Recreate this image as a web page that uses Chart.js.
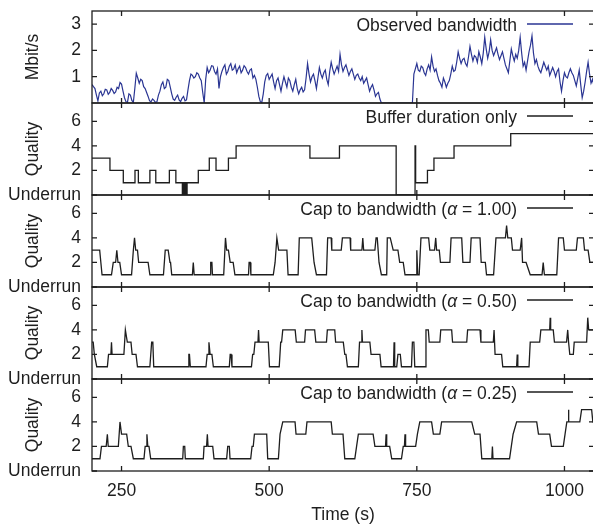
<!DOCTYPE html>
<html>
<head>
<meta charset="utf-8">
<script src="https://cdn.jsdelivr.net/npm/chart.js@4"></script>
<style>
  html, body { margin: 0; padding: 0; background: #fff; overflow: hidden; }
  #wrap { position: relative; width: 593px; height: 524px; overflow: hidden; }
  #wrap canvas { position: absolute; left: 0; }
</style>
</head>
<body>
<div id="wrap"></div>
<script>
// time axis
const xTicks = [250, 500, 750, 1000];
const bwTicks = [1, 2, 3];
const qualityTicks = [0, 2, 4, 6];

// observed bandwidth (Mbit/s), one value every 2.5 s from 200 s (one row = 25 s)
const bwStart = 200;
const bwStep = 2.5;
const bandwidth = [
  0.70, 0.62, 0.55, 0.30, 0.08, 0.38, 0.45, 0.28, 0.35, 0.52,
  0.50, 0.33, 0.40, 0.55, 0.48, 0.36, 0.42, 0.60, 0.55, 0.78,
  0.72, 0.45, 0.20, 0.05, 0.02, 0.35, 0.30, 0.10, 0.02, 0.55,
  1.13, 0.95, 0.75, 0.90, 0.85, 0.62, 0.55, 0.40, 0.25, 0.08,
  0.05, 0.15, 0.10, 0.02, 0.05, 0.30, 0.45, 0.70, 0.80, 0.55,
  0.60, 0.90, 0.85, 0.60, 0.35, 0.15, 0.10, 0.22, 0.30, 0.12,
  0.05, 0.18, 0.25, 0.08, 0.12, 0.50, 0.85, 1.10, 1.05, 0.95,
  1.00, 1.15, 1.10, 0.95, 0.85, 0.40, 0.00, 0.90, 1.35, 1.15,
  1.25, 1.42, 1.40, 1.20, 1.10, 1.30, 0.55, 1.00, 1.20, 1.35,
  1.45, 1.10, 1.20, 1.40, 1.50, 1.25, 1.30, 1.45, 1.15, 1.30,
  1.40, 1.15, 1.25, 1.42, 1.35, 1.20, 1.10, 1.25, 1.30, 0.95,
  1.05, 0.90, 0.60, 0.25, 0.05, 0.02, 0.35, 0.80, 1.05, 1.12,
  0.90, 1.00, 1.10, 0.80, 0.55, 0.85, 0.95, 0.70, 0.45, 0.75,
  1.00, 0.80, 0.60, 0.95, 0.85, 0.60, 0.45, 0.70, 0.90, 0.55,
  0.35, 0.50, 0.60, 0.42, 0.50, 0.95, 1.50, 1.10, 0.80, 1.00,
  1.10, 0.85, 0.55, 0.95, 1.35, 1.10, 0.95, 1.15, 1.25, 0.90,
  0.70, 1.20, 1.55, 1.30, 1.10, 1.25, 1.40, 1.20, 1.85, 1.45,
  1.20, 1.35, 1.45, 1.25, 1.05, 1.20, 1.30, 1.10, 0.90, 1.05,
  1.10, 0.95, 0.85, 1.00, 0.75, 0.85, 0.95, 0.70, 0.45, 0.60,
  0.70, 0.50, 0.25, 0.35, 0.40, 0.15, 0.00, 0.00, 0.00, 0.00,
  0.00, 0.00, 0.00, 0.00, 0.00, 0.00, 0.00, 0.00, 0.00, 0.00,
  0.00, 0.00, 0.00, 0.00, 0.00, 0.00, 0.00, 0.00, 1.10, 1.30,
  1.50, 1.25, 1.20, 1.40, 1.35, 1.15, 1.05, 1.30, 1.45, 1.25,
  1.75, 1.40, 1.20, 1.30, 1.05, 0.85, 0.75, 0.60, 0.95, 0.80,
  0.60, 0.75, 0.85, 1.10, 1.40, 1.20, 1.25, 1.55, 1.95, 1.70,
  1.50, 1.65, 1.70, 1.50, 1.40, 1.75, 2.15, 1.85, 1.60, 1.80,
  1.75, 1.55, 1.95, 1.75, 1.50, 1.90, 2.50, 2.05, 1.70, 1.95,
  2.40, 2.00, 1.80, 1.95, 2.10, 1.85, 1.65, 1.80, 1.95, 1.70,
  1.45, 1.30, 1.15, 1.60, 2.05, 1.80, 1.60, 1.85, 1.70, 2.00,
  2.50, 1.90, 1.40, 1.55, 1.25, 1.60, 1.95, 2.20, 2.55, 1.90,
  1.50, 1.65, 1.40, 1.25, 1.15, 1.35, 1.55, 1.40, 1.25, 1.40,
  1.05, 1.20, 1.35, 1.20, 1.00, 1.20, 1.30, 0.80, 0.45, 0.85,
  1.15, 1.00, 0.95, 1.15, 1.30, 1.15, 1.05, 0.85, 0.65, 0.95,
  1.25, 0.70, 0.20, 0.45, 0.80, 1.20, 1.55, 1.10, 0.75, 0.90,
  0.65
];

// quality level changes: [time (s), level], level 0 = underrun
const bufferOnly = [
  [200, 3], [230.4, 2], [253, 1], [272.8, 2], [278.5, 1], [298, 2], [308, 1],
  [331, 2], [342, 1], [353, 0], [354, 1], [355, 0], [356, 1], [357.5, 0],
  [358.5, 1], [360, 0], [361, 1], [380, 2], [398.6, 3], [410, 2], [431, 3],
  [444, 4], [569, 3], [619, 4], [715, 0], [747, 4], [748, 1], [768, 2],
  [779, 3], [813, 4], [909, 5], [1050, 5]
];

// quality samples: [time (s), level]
const cap100 = [
  [200,3],[213,3],[217,1],[233,1],[236,2],[240,2],[242,3],[244,2],[247,2],[250,1],
  [267,1],[270,3],[272,4],[274,3],[277,3],[279,2],[295,2],[298,1],[321,1],[324,3],
  [329,3],[332,2],[333,2],[335,1],[370,1],[371.5,2],[373,1],[400,1],[401,2],[403,2],
  [404,1],[423,1],[426,4],[428,3],[431,3],[434,2],[439,2],[442,1],[465,1],[466,2],
  [468,2],[469,1],[507,1],[510,2],[513,4],[516,3],[530,3],[532,1],[549,1],[551,4],
  [572,4],[576,2],[580,1],[597,1],[599,4],[605,4],[606,3],[622,3],[624,4],[637,4],
  [638,3],[657,3],[658.5,4],[660,3],[679,3],[681,4],[683,4],[686,2],[690,1],[699,1],
  [700,4],[705,4],[710,3],[718,3],[721,2],[727,2],[730,1],[749,1],[750,3],[751.5,1],
  [754,1],[757,4],[770,4],[772,3],[780,3],[782,4],[783.5,3],[788,3],[790,2],[806,2],
  [808,4],[826,4],[828,2],[840,2],[842,4],[857,4],[859,2],[866,2],[868,1],[880,1],
  [884,4],[900,4],[902,5],[904,4],[910,4],[912,3],[925,3],[927.5,4],[929,2],[935,2],
  [942,1],[962,1],[964,2],[966,1],[987,1],[990,4],[998,4],[1000,3],[1020,3],[1022,4],
  [1032,4],[1034,3],[1040,3],[1043,2],[1050,2]
];

const cap050 = [
  [200,3],[202,3],[204,2],[208,1],[226,1],[228,2],[232,2],[233,3],[234,2],[254,2],
  [256.5,4],[259.8,3],[266,3],[268,2],[274.5,2],[277,1],[298,1],[301,3],[303,3],[304.5,1],
  [363,1],[364,2],[365,2],[366.5,1],[393,1],[395,2],[397,2],[398,3],[400,2],[403,2],
  [405.5,1],[432.5,1],[434,2],[435.5,2],[437,1],[470,1],[472,2],[474,2],[476,3],[481,3],
  [482,4],[483,3],[498.5,3],[500.5,1],[517,1],[519.5,3],[521,3],[523,4],[544,4],[546,3],
  [560,3],[561.5,4],[577,4],[579,3],[597,3],[598.5,4],[611,4],[612.5,3],[625.5,3],[628,2],
  [630,2],[632.5,1],[651,1],[653,3],[656,3],[657,4],[658,3],[670.5,3],[672.5,2],[687.5,2],
  [689.5,1],[710.5,1],[711.5,3],[712.5,1],[716,1],[718,2],[722,2],[724,1],[741,1],[742.5,3],
  [745,3],[746.5,1],[764,1],[765.5,4],[769.5,4],[771,3],[789,3],[790.5,4],[809,4],[810.5,3],
  [834.5,3],[836,4],[857,4],[858.5,3],[879.5,3],[880.8,4],[882.5,2],[893.5,2],[895.5,1],[919,1],
  [920,2],[921,1],[940,1],[942,3],[958,3],[960,4],[975,4],[975.8,5],[976.6,4],[981,4],
  [983,3],[1003.5,3],[1005.5,4],[1007,3],[1009,2],[1015,2],[1016.5,3],[1037.5,3],[1039.4,5],[1041,4],
  [1050,4]
];

const cap025 = [
  [200,1],[213.5,1],[216,2],[224,2],[226,3],[227.5,2],[244.6,2],[247.4,4],[250,3],[258.7,3],
  [261.5,2],[266,2],[270,1],[288,1],[290,2],[292,2],[293,3],[294.5,2],[296.5,2],[299.4,1],
  [353.6,1],[354.7,2],[357,2],[358,1],[388.5,1],[389.7,2],[394,2],[395.3,3],[396.5,2],[404.4,2],
  [406.6,1],[428,1],[429.8,2],[432.5,2],[433.7,1],[468.7,1],[471,2],[473,2],[475,3],[495.8,3],
  [497.5,1],[515.6,1],[518.4,3],[520,3],[523,4],[543.8,4],[545.5,3],[562,3],[564,4],[605,4],
  [607,3],[625,3],[628,1],[645,1],[648,2],[651,3],[676,3],[679,2],[697,2],[698,3],
  [699,2],[704,2],[707.5,1],[724,1],[727,2],[729,2],[730,3],[731,2],[748,2],[751,3],
  [755,4],[775,4],[778,3],[789,3],[792,4],[843,4],[848,3],[857,3],[860,1],[877,1],
  [878,2],[879,1],[907,1],[910,2],[913,3],[919,4],[953,4],[956,3],[975,3],[978,2],
  [998,2],[1001,3],[1004,4],[1006,4],[1006.7,5],[1007.5,4],[1026,4],[1029,5],[1046,5],[1048,4],
  [1050,4]
];

const legendLabels = [
  'Observed bandwidth',
  'Buffer duration only',
  'Cap to bandwidth (α = 1.00)',
  'Cap to bandwidth (α = 0.50)',
  'Cap to bandwidth (α = 0.25)'
];

// layout
const panelTops = [11, 103, 195, 287, 379, 471];
const padTop = 14;
const fontFamily = "'Liberation Sans', Arial, Helvetica, sans-serif";
const ink = '#1e1e1e';
const blue = '#2a3593';

Chart.defaults.font.family = fontFamily;
Chart.defaults.font.size = 17.5;
Chart.defaults.color = ink;

// gnuplot-like frame, inward ticks and key in the top right corner
const framePlugin = {
  id: 'frame',
  afterDatasetsDraw(chart, args, opts) {
    const { ctx, chartArea: a, scales } = chart;
    ctx.save();
    ctx.strokeStyle = ink;
    ctx.lineWidth = 1.3;
    ctx.strokeRect(a.left, a.top, a.right - a.left, a.bottom - a.top);
    ctx.beginPath();
    xTicks.forEach(v => {
      const px = scales.x.getPixelForValue(v);
      ctx.moveTo(px, a.top); ctx.lineTo(px, a.top + 5);
      ctx.moveTo(px, a.bottom); ctx.lineTo(px, a.bottom - 5);
    });
    opts.yTicks.forEach(v => {
      const py = scales.y.getPixelForValue(v);
      ctx.moveTo(a.left, py); ctx.lineTo(a.left + 5, py);
      ctx.moveTo(a.right, py); ctx.lineTo(a.right - 5, py);
    });
    ctx.stroke();

    // key
    const font = '17.5px ' + fontFamily;
    const italic = 'italic 17.5px ' + fontFamily;
    const parts = opts.label.split('α');
    ctx.fillStyle = ink;
    ctx.textBaseline = 'alphabetic';
    ctx.textAlign = 'left';
    ctx.font = font;
    const widths = parts.map(p => ctx.measureText(p).width);
    ctx.font = italic;
    const aw = parts.length > 1 ? ctx.measureText('α').width : 0;
    const total = widths.reduce((s, w) => s + w, 0) + aw;
    let x = a.right - 77 - total;
    const by = a.top + 20;
    ctx.font = font;
    ctx.fillText(parts[0], x, by);
    x += widths[0];
    if (parts.length > 1) {
      ctx.font = italic;
      ctx.fillText('α', x, by);
      x += aw;
      ctx.font = font;
      ctx.fillText(parts[1], x, by);
    }
    ctx.strokeStyle = opts.color;
    ctx.lineWidth = 1.3;
    ctx.beginPath();
    ctx.moveTo(a.right - 67, a.top + 13);
    ctx.lineTo(a.right - 21, a.top + 13);
    ctx.stroke();
    ctx.restore();
  }
};
Chart.register(framePlugin);

function makePanel(i, dataset, yCfg) {
  const isBottom = i === 4;
  const top = panelTops[i];
  const h = panelTops[i + 1] - top;
  const canvasTop = top - padTop;
  const height = isBottom ? 524 - canvasTop : h + 2 * padTop;
  const canvas = document.createElement('canvas');
  canvas.width = 596;
  canvas.height = height;
  canvas.style.top = canvasTop + 'px';
  document.getElementById('wrap').appendChild(canvas);

  return new Chart(canvas, {
    type: 'line',
    data: { datasets: [dataset] },
    options: {
      responsive: false,
      animation: false,
      devicePixelRatio: 1,
      layout: { padding: { top: padTop, bottom: isBottom ? 0 : padTop, left: 0, right: 2 } },
      plugins: {
        legend: { display: false },
        tooltip: { enabled: false },
        frame: { label: legendLabels[i], color: dataset.borderColor, yTicks: yCfg.ticks }
      },
      elements: { point: { radius: 0 }, line: { tension: 0 } },
      scales: {
        x: {
          type: 'linear',
          min: 200,
          max: 1050,
          display: isBottom,
          afterBuildTicks: s => { s.ticks = xTicks.map(v => ({ value: v })); },
          afterFit: s => {
            if (isBottom) s.height = 53;
            s.paddingLeft = 0; s.paddingRight = 0;
          },
          grid: { display: false, drawTicks: false },
          border: { display: false },
          ticks: { padding: 10, autoSkip: false, maxRotation: 0, callback: v => String(v) },
          title: { display: true, text: 'Time (s)', padding: { top: 0, bottom: -2 } }
        },
        y: {
          type: 'linear',
          min: 0,
          max: yCfg.max,
          afterBuildTicks: s => { s.ticks = yCfg.ticks.map(v => ({ value: v })); },
          afterFit: s => {
            s.width = 92;
            // let the labels overhang: the panels are placed by the layout padding only
            s.paddingTop = 0; s.paddingBottom = 0;
          },
          grid: { display: false, drawTicks: false },
          border: { display: false },
          ticks: { padding: 11, autoSkip: false, callback: yCfg.callback },
          title: { display: true, text: yCfg.title, padding: { top: 22.5, bottom: 0 } }
        }
      }
    }
  });
}

const qualityAxis = {
  max: 7.5,
  ticks: qualityTicks,
  title: 'Quality',
  callback: v => (v === 0 ? 'Underrun' : String(v))
};

const toPoints = rows => rows.map(([t, q]) => ({ x: t, y: q }));

makePanel(0, {
  label: legendLabels[0],
  data: bandwidth.map((v, k) => ({ x: bwStart + k * bwStep, y: v })),
  borderColor: blue,
  borderWidth: 1.2
}, { max: 3.5, ticks: bwTicks, title: 'Mbit/s', callback: v => String(v) });

makePanel(1, {
  label: legendLabels[1],
  data: toPoints(bufferOnly),
  stepped: true,
  borderColor: ink,
  borderWidth: 1.3
}, qualityAxis);

makePanel(2, {
  label: legendLabels[2],
  data: toPoints(cap100),
  borderColor: ink,
  borderWidth: 1.3
}, qualityAxis);

makePanel(3, {
  label: legendLabels[3],
  data: toPoints(cap050),
  borderColor: ink,
  borderWidth: 1.3
}, qualityAxis);

makePanel(4, {
  label: legendLabels[4],
  data: toPoints(cap025),
  borderColor: ink,
  borderWidth: 1.3
}, qualityAxis);
</script>
</body>
</html>
